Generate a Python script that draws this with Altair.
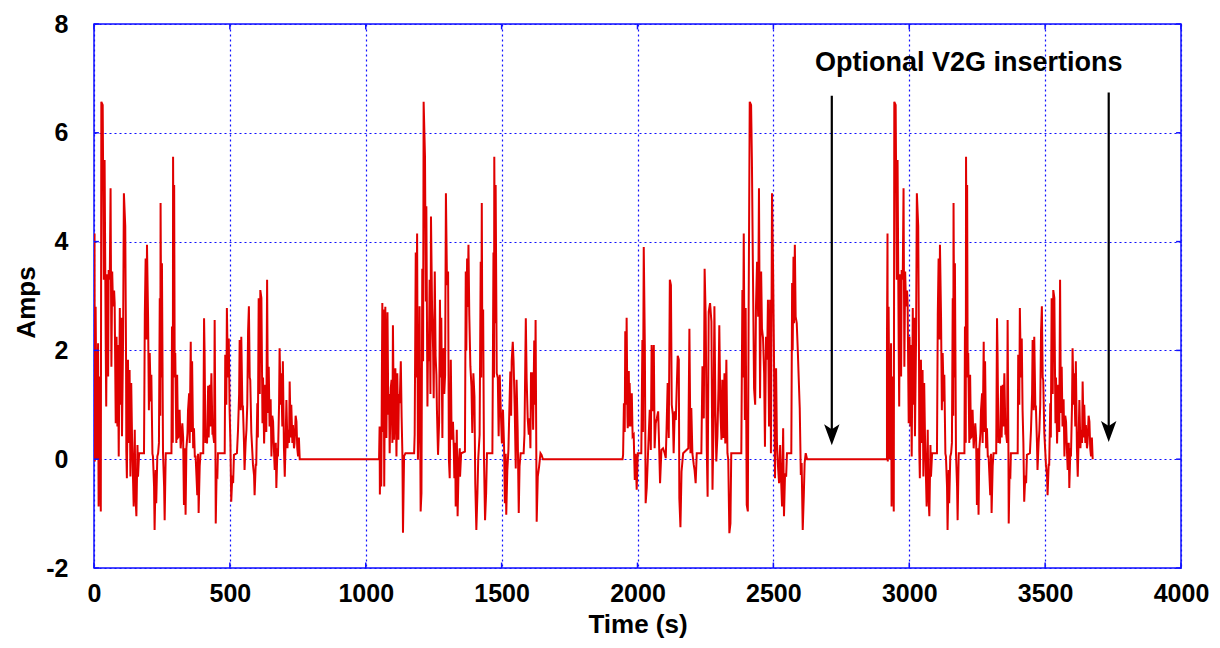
import altair as alt
import pandas as pd

# ---- data: (time s, amps) per drive block ----
cycle_a = [
    (0, 2.13), (2, 4.15), (3, -0.04), (6, 2.8), (10, 0.0), (15, 2.13), (17, -0.87), (21, 1.52),
    (25, -0.96), (27, 6.57), (32, 6.51), (36, 3.3), (39, 5.5), (43, 2.2), (45, 0.97), (48, 3.4),
    (52, 1.52), (54, 3.48), (58, 3.3), (61, 4.98), (64, 1.7), (67, 3.45), (70, 2.81), (74, 3.1),
    (76, 2.87), (80, 0.66), (83, 2.25), (86, 0.6), (88, 2.1), (91, 0.05), (95, 2.78), (97, 1.0),
    (101, 2.6), (103, 0.42), (107, 2.2), (110, 4.89), (115, 4.28), (118, 1.8), (119, 0.14),
    (121, -0.35), (125, 1.83), (128, 0.3), (131, 1.64), (134, -0.32), (137, 1.4), (140, 0.39),
    (144, -0.44), (146, -0.87), (150, 0.54), (152, -0.6), (156, -1.05), (160, 0.26), (162, -0.32),
    (166, 0.11), (184, 0.11), (187, 2.65), (190, 3.69), (193, 2.2), (195, 3.94), (199, 2.62),
    (202, 0.9), (205, 1.95), (209, 1.06), (211, 1.55), (215, 0.1), (217, 0.05), (221, -0.5),
    (223, -1.3), (227, -0.2), (229, -0.81), (233, 0.05), (236, 0.11), (239, 0.3), (242, 2.96),
    (244, 0.8), (245, 4.71), (248, 1.5), (250, 3.6), (254, 0.11), (258, -0.5), (260, -1.12),
    (264, 0.11), (285, 0.11), (287, 2.44), (290, 0.3), (291, 5.56), (293, 3.2), (295, 5.04),
    (297, 1.5), (299, 1.95), (303, 0.3), (306, 1.55), (309, 0.4), (312, 0.42), (315, 0.91),
    (319, 0.2), (321, 0.36), (325, 0.66), (328, 0.4), (331, -0.84), (334, 0.2), (337, -1.02),
    (340, 0.2), (344, 0.48), (346, 0.9), (350, 1.21), (352, 0.3), (356, 2.16), (358, 0.5),
    (361, 1.8), (365, 0.2), (368, 0.57), (371, 0.05), (374, 0.05), (377, -0.3), (380, -0.66),
    (383, 0.1), (385, -0.99), (389, -0.13), (392, 0.11), (402, 0.11), (405, 2.59), (407, 1.95),
    (410, 0.3), (413, 0.5), (416, 0.29), (420, 1.35), (422, 0.4), (426, 1.37), (428, 0.6),
    (432, 1.58), (436, 0.45), (438, 0.48), (442, 0.3), (444, 2.56), (447, 0.1), (448, -1.18),
    (451, -0.3), (454, -0.32), (456, 0.11), (481, 0.11), (483, 1.92), (487, 1.0), (489, 2.78),
    (493, 1.5), (496, 2.22), (499, 0.91), (502, 0.3), (505, -0.78), (509, -0.3), (512, -0.44),
    (515, 0.08), (526, 0.11), (530, 0.54), (534, 1.2), (536, 2.19), (540, 0.9), (542, 2.25),
    (546, 0.97), (548, 0.97), (552, 0.3), (554, -0.2), (558, 0.3), (561, 0.54), (564, 1.0),
    (567, 2.35), (570, 2.81), (573, 1.5), (575, 1.46), (579, 0.48), (583, 0.1), (585, -0.1),
    (589, -0.3), (591, -0.66), (595, -0.1), (597, -0.1), (601, 1.03), (603, 0.4), (606, 2.96),
    (610, 1.2), (612, 3.11), (616, 2.96), (620, 0.66), (622, 1.5), (626, 0.29), (629, 1.0),
    (630, 1.37), (634, 0.5), (637, 3.3), (640, 0.85), (643, 1.7), (646, 0.6), (650, 1.1),
    (653, 0.05), (656, 0.8), (659, 0.69), (662, 0.2), (665, -0.2), (669, 0.3), (671, -0.53),
    (675, 0.2), (677, 0.05), (681, 1.0), (683, 2.04), (687, 1.0), (689, 1.58), (693, 0.6),
    (695, 1.8), (699, 0.2), (702, -0.32), (705, 0.3), (708, 1.09), (712, 0.2), (714, 0.54),
    (718, 0.3), (720, 1.43), (724, 0.4), (726, 1.0), (730, 0.3), (732, 0.63), (736, 0.2),
    (738, 0.29), (742, 0.8), (745, 0.69), (748, 0.2), (751, 0.05), (754, 0.4), (757, 0.0),
]

cycle_b = [
    (1049, 0.0), (1051, 0.6), (1052, -0.65), (1055, 0.57), (1057, -0.5), (1061, 2.87), (1064, 0.5),
    (1066, 2.75), (1068, -0.5), (1072, 2.8), (1076, 0.39), (1080, 2.7), (1083, 0.82), (1086, 1.2),
    (1088, 0.11), (1092, 1.31), (1095, 1.46), (1098, 0.3), (1100, 2.46), (1104, 0.36), (1107, 1.0),
    (1109, 1.67), (1113, 0.05), (1116, 1.58), (1120, 0.36), (1122, 1.2), (1125, 1.03), (1129, 1.8),
    (1132, 0.78), (1135, 0.05), (1137, -1.35), (1141, 0.05), (1146, 0.11), (1178, 0.11),
    (1180, 0.45), (1184, 3.8), (1186, 1.5), (1189, 4.15), (1192, -0.01), (1196, 1.03), (1198, 2.81),
    (1202, -0.96), (1205, -0.62), (1208, 3.5), (1211, 1.8), (1213, 6.57), (1218, 5.56), (1221, 2.9),
    (1223, 4.65), (1227, 0.97), (1229, 2.0), (1232, 1.8), (1235, 3.3), (1238, 1.2), (1240, 4.46),
    (1244, 2.78), (1248, 2.0), (1250, 1.12), (1254, 3.45), (1257, 1.9), (1260, 1.55), (1262, 0.9),
    (1266, 0.08), (1270, 0.69), (1273, 2.93), (1276, 1.5), (1278, 2.6), (1282, 0.39), (1284, 1.9),
    (1287, 2.04), (1289, 1.2), (1292, 1.55), (1295, 4.89), (1299, 3.2), (1303, 3.45), (1306, -0.01),
    (1309, -0.35), (1313, 1.83), (1316, 0.36), (1321, 0.69), (1324, 0.2), (1326, -0.35), (1329, 0.3),
    (1331, -0.87), (1335, 0.54), (1337, -0.5), (1338, -1.05), (1342, -0.07), (1346, 0.2),
    (1347, -0.32), (1351, 0.11), (1365, 0.14), (1368, 3.45), (1370, 2.0), (1373, 3.69), (1375, 2.8),
    (1378, 3.94), (1381, 2.65), (1385, 1.71), (1389, 1.34), (1392, 0.48), (1396, 1.58), (1400, 1.15),
    (1403, -0.44), (1407, -1.3), (1411, -0.62), (1414, 0.02), (1419, 0.45), (1423, 3.63), (1425, 1.5),
    (1427, 4.71), (1429, 2.0), (1432, 2.75), (1435, 0.05), (1439, -1.12), (1443, -0.62), (1446, 0.11),
    (1466, 0.11), (1470, 3.8), (1472, 1.5), (1473, 5.56), (1476, 2.5), (1478, 5.04), (1482, 1.58),
    (1486, 1.49), (1489, 0.42), (1493, 1.55), (1497, 0.88), (1501, 0.29), (1505, 0.91), (1509, 0.23),
    (1512, -0.81), (1515, 0.1), (1517, -1.02), (1521, -0.2), (1525, 0.17), (1528, 0.82), (1532, 1.61),
    (1535, 0.8), (1537, 1.8), (1541, 2.16), (1544, 1.8), (1548, 0.97), (1552, -0.17), (1555, 1.46),
    (1559, 0.54), (1563, -0.99), (1566, -0.13), (1570, 0.11), (1581, 0.11), (1584, 0.45), (1586, 1.3),
    (1589, 2.59), (1592, 1.49), (1596, 0.75), (1600, 0.45), (1603, 0.75), (1606, 0.2), (1608, 1.58),
    (1612, 1.58), (1616, 0.54), (1620, 2.18), (1623, 1.0), (1625, 2.56), (1629, -1.15), (1633, -0.32),
    (1638, -0.13), (1643, 0.11), (1647, 0.08), (1652, 0.0),
]

cycle_c = [
    (1945, 0.0), (1947, 0.08), (1950, 1.03), (1953, 0.5), (1955, 2.35), (1958, 1.0), (1960, 2.6),
    (1963, 0.8), (1964, 0.57), (1968, 1.62), (1970, 0.6), (1971, 1.4), (1975, 0.6), (1979, 1.21),
    (1982, 0.42), (1986, 0.45), (1990, -0.38), (1993, 0.1), (1997, -0.56), (2001, 0.11), (2014, 0.11),
    (2018, 2.19), (2020, 0.5), (2023, 3.9), (2027, 2.1), (2030, -0.81), (2034, -0.53), (2039, 0.14),
    (2045, 0.91), (2049, 0.17), (2052, 2.1), (2056, 0.88), (2060, 2.1), (2063, 0.2), (2067, 0.66),
    (2071, 0.75), (2076, 0.88), (2079, 0.36), (2083, -0.44), (2088, 0.17), (2094, 0.2), (2100, 0.11),
    (2104, 0.02), (2107, 0.57), (2111, 1.4), (2115, 0.39), (2119, 3.3), (2123, 3.2), (2126, 1.0),
    (2130, 0.82), (2133, 0.11), (2137, 0.88), (2141, 0.72), (2144, 1.25), (2148, 1.9), (2152, 1.83),
    (2154, -0.72), (2158, -1.25), (2162, -0.23), (2168, 0.11), (2187, 0.2), (2191, 2.4), (2195, 0.11),
    (2198, 0.94), (2202, 0.11), (2207, -0.1), (2210, -0.2), (2214, -0.44), (2218, 0.11), (2235, 0.11),
    (2239, 1.71), (2244, 0.75), (2247, 3.5), (2251, 2.6), (2255, 0.17), (2258, -0.69), (2262, 2.71),
    (2267, 2.87), (2272, 2.53), (2276, -0.56), (2279, 0.39), (2283, 2.81), (2287, 0.82), (2290, -0.04),
    (2294, 0.42), (2298, 1.31), (2301, 2.46), (2305, 0.88), (2309, 0.36), (2312, 1.46), (2316, 0.39),
    (2320, 1.58), (2323, 0.29), (2327, 1.83), (2331, 0.11), (2334, -0.01), (2338, -1.36), (2342, -1.18),
    (2345, 0.11), (2382, 0.11), (2386, 3.11), (2388, 1.5), (2391, 4.15), (2395, 0.72), (2398, 2.78),
    (2402, -0.84), (2406, -0.96), (2409, 2.75), (2413, 6.57), (2418, 6.51), (2421, 5.5), (2425, 3.33),
    (2429, 1.3), (2433, 1.0), (2436, 2.81), (2440, 3.63), (2444, 2.62), (2447, 4.98), (2451, 1.12),
    (2455, 3.45), (2458, 2.4), (2462, 2.22), (2466, 1.58), (2469, 0.23), (2473, 2.25), (2477, 1.83),
    (2480, 2.93), (2484, 0.6), (2488, 2.93), (2491, 0.11), (2495, 4.89), (2499, 3.45), (2502, 2.02),
    (2506, -0.35), (2510, 1.67), (2513, 0.33), (2517, -0.13), (2521, -0.44), (2525, 0.26),
    (2528, -0.32), (2532, -0.87), (2536, 0.57), (2539, -1.05), (2543, -0.26), (2547, -0.32),
    (2550, 0.11), (2566, 0.11), (2569, 3.24), (2571, 2.0), (2574, 3.72), (2576, 2.5), (2579, 3.94),
    (2582, 2.62), (2586, 2.5), (2590, 1.98), (2593, 1.52), (2597, 0.94), (2601, -0.29), (2604, -0.07),
    (2608, -1.3), (2612, -0.66), (2615, -0.07), (2619, 0.11), (2624, 0.0), (2918, 0.0),
]

# the last block in the picture is the first block's drive cycle again, starting here
cycle_a_repeat_start = 2918

x_ticks = [0, 500, 1000, 1500, 2000, 2500, 3000, 3500, 4000]
y_ticks = [-2, 0, 2, 4, 6, 8]
x_domain = [0, 4000]
y_domain = [-2, 8]

annotation_label = ["Optional V2G insertions"]
annotation_t = [3219]
annotation_amps = [7.13]
arrow_t = [2715, 3734]
arrow_top = [6.68, 6.74]
arrow_head = [0.46, 0.52]

# ---- build tables ----
rows = []
for t, a in cycle_a:
    rows.append((t, a))
for t, a in cycle_b:
    rows.append((t, a))
for t, a in cycle_c:
    rows.append((t, a))
for t, a in cycle_a:
    rows.append((t + cycle_a_repeat_start, a))
signal = pd.DataFrame(rows, columns=["t", "amps"])
signal["i"] = range(len(signal))

tick_len_x = 18.0   # inward tick length in s (left/right)
tick_len_y = 0.1    # inward tick length in amps (top/bottom)
tick_rows = []
for xv in x_ticks:
    tick_rows.append(dict(x=xv, x2=xv, y=y_domain[0], y2=y_domain[0] + tick_len_y))
    tick_rows.append(dict(x=xv, x2=xv, y=y_domain[1] - tick_len_y, y2=y_domain[1]))
for yv in y_ticks:
    tick_rows.append(dict(x=x_domain[0], x2=x_domain[0] + tick_len_x, y=yv, y2=yv))
    tick_rows.append(dict(x=x_domain[1] - tick_len_x, x2=x_domain[1], y=yv, y2=yv))
ticks_df = pd.DataFrame(tick_rows)

ann_df = pd.DataFrame({"t": annotation_t, "amps": annotation_amps, "label": annotation_label})
arrow_df = pd.DataFrame({"t": arrow_t, "top": arrow_top, "head": arrow_head})

FONT = "Liberation Sans"
BLUE = "#1010ff"

xscale = alt.Scale(domain=x_domain, nice=False, zero=False)
yscale = alt.Scale(domain=y_domain, nice=False, zero=False)

line = alt.Chart(signal).mark_line(
    color="#e00000", strokeWidth=2.0, clip=True
).encode(
    x=alt.X("t:Q", scale=xscale, axis=alt.Axis(
        values=x_ticks, title="Time (s)", labelExpr="toString(datum.value)",
        labelFont=FONT, labelFontWeight="bold", labelFontSize=25, labelColor="black",
        labelPadding=13, labelFlush=False, labelOverlap=False,
        ticks=False, tickSize=0, domain=False,
        grid=True, gridColor=BLUE, gridDash=[2, 3], gridWidth=1.2, gridOpacity=1,
        titleFont=FONT, titleFontWeight="bold", titleFontSize=26, titleColor="black",
        titleBaseline="alphabetic", titleY=64,
    )),
    y=alt.Y("amps:Q", scale=yscale, axis=alt.Axis(
        values=y_ticks, title="Amps", labelExpr="toString(datum.value)",
        labelFont=FONT, labelFontWeight="bold", labelFontSize=25, labelColor="black",
        labelPadding=26, labelFlush=False, labelOverlap=False,
        ticks=False, tickSize=0, domain=False,
        grid=True, gridColor=BLUE, gridDash=[2, 3], gridWidth=1.2, gridOpacity=1,
        titleFont=FONT, titleFontWeight="bold", titleFontSize=26, titleColor="black",
        titleBaseline="alphabetic", titleX=-60, titleY=278, titleAngle=270,
    )),
    order=alt.Order("i:Q"),
)

inward_ticks = alt.Chart(ticks_df).mark_rule(color=BLUE, strokeWidth=1.5).encode(
    x=alt.X("x:Q", scale=xscale), x2="x2:Q",
    y=alt.Y("y:Q", scale=yscale), y2="y2:Q",
)

label = alt.Chart(ann_df).mark_text(
    font=FONT, fontWeight="bold", fontSize=27, color="black",
    align="center", baseline="alphabetic",
).encode(
    x=alt.X("t:Q", scale=xscale), y=alt.Y("amps:Q", scale=yscale), text="label:N"
)

shafts = alt.Chart(arrow_df).mark_rule(color="black", strokeWidth=2.2).encode(
    x=alt.X("t:Q", scale=xscale), y=alt.Y("top:Q", scale=yscale), y2="head:Q"
)

heads = alt.Chart(arrow_df).mark_point(
    shape="M0,1 L-0.7,-0.9 L0,-0.45 L0.7,-0.9 Z",
    size=484, filled=True, color="black", opacity=1, strokeWidth=0,
).encode(
    x=alt.X("t:Q", scale=xscale), y=alt.Y("head:Q", scale=yscale)
)

chart = alt.layer(line, inward_ticks, label, shafts, heads).properties(
    width=1087, height=544,
    padding={"left": 86, "top": 16, "right": 30, "bottom": 76},
    autosize=alt.AutoSizeParams(type="none"),
    background="white",
).configure_view(
    stroke=BLUE, strokeWidth=1.5
)

chart.save("out.html", embed_options={"renderer": "svg", "actions": False})
